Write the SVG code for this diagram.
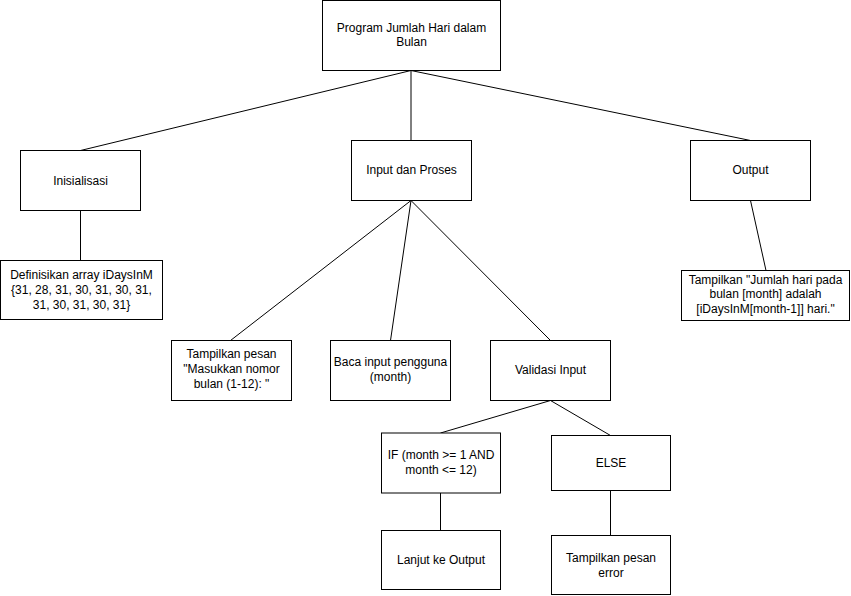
<svg xmlns="http://www.w3.org/2000/svg" width="851" height="596" viewBox="0 0 851 596">
  <style>
    .box { fill: #ffffff; stroke: #000000; stroke-width: 1; }
    .lbl { font-family: "Liberation Sans", Arial, Helvetica, sans-serif; font-size: 12px; fill: #000000; text-anchor: middle; }
    .edge { stroke: #000000; stroke-width: 1; fill: none; }
  </style>
  <rect width="851" height="596" fill="#ffffff"/>

  <!-- connectors -->
  <g id="connectors">
    <line class="edge" x1="411" y1="70.5" x2="80.5" y2="150.5"/>
    <line class="edge" x1="411" y1="70.5" x2="411" y2="140.5"/>
    <line class="edge" x1="411" y1="70.5" x2="750.5" y2="140.5"/>
    <line class="edge" x1="80.5" y1="210.5" x2="80.5" y2="260.5"/>
    <line class="edge" x1="411" y1="200.5" x2="230.5" y2="340.5"/>
    <line class="edge" x1="411" y1="200.5" x2="390.5" y2="340.5"/>
    <line class="edge" x1="411" y1="200.5" x2="550.5" y2="340.5"/>
    <line class="edge" x1="750.5" y1="200.5" x2="766" y2="270.5"/>
    <line class="edge" x1="550.5" y1="400.5" x2="440.5" y2="433"/>
    <line class="edge" x1="550.5" y1="400.5" x2="610.5" y2="435.5"/>
    <line class="edge" x1="440.5" y1="493" x2="440.5" y2="530.5"/>
    <line class="edge" x1="610.5" y1="490.5" x2="610.5" y2="535.5"/>
  </g>

  <g id="root">
    <rect class="box" x="322.5" y="0.5" width="178" height="70"/>
    <text class="lbl" x="411.5" y="32">Program Jumlah Hari dalam</text>
    <text class="lbl" x="411.5" y="46">Bulan</text>
  </g>

  <g id="inisialisasi">
    <rect class="box" x="20.5" y="150.5" width="120" height="60"/>
    <text class="lbl" x="80.5" y="185">Inisialisasi</text>
  </g>

  <g id="definisi-array">
    <rect class="box" x="0.5" y="260.5" width="162" height="59"/>
    <text class="lbl" x="81.5" y="279">Definisikan array iDaysInM</text>
    <text class="lbl" x="81.5" y="294">{31, 28, 31, 30, 31, 30, 31,</text>
    <text class="lbl" x="81.5" y="309">31, 30, 31, 30, 31}</text>
  </g>

  <g id="input-proses">
    <rect class="box" x="351.5" y="140.5" width="120" height="60"/>
    <text class="lbl" x="411.5" y="174">Input dan Proses</text>
  </g>

  <g id="output">
    <rect class="box" x="690.5" y="140.5" width="120" height="60"/>
    <text class="lbl" x="750.5" y="174">Output</text>
  </g>

  <g id="tampilkan-hasil">
    <rect class="box" x="681.5" y="270.5" width="168" height="50"/>
    <text class="lbl" x="765.5" y="284">Tampilkan "Jumlah hari pada</text>
    <text class="lbl" x="765.5" y="298">bulan [month] adalah</text>
    <text class="lbl" x="765.5" y="313">[iDaysInM[month-1]] hari."</text>
  </g>

  <g id="tampilkan-pesan">
    <rect class="box" x="171.5" y="340.5" width="120" height="60"/>
    <text class="lbl" x="231.5" y="358">Tampilkan pesan</text>
    <text class="lbl" x="231.5" y="373">"Masukkan nomor</text>
    <text class="lbl" x="231.5" y="388">bulan (1-12): "</text>
  </g>

  <g id="baca-input">
    <rect class="box" x="330.5" y="340.5" width="120" height="60"/>
    <text class="lbl" x="390.5" y="366">Baca input pengguna</text>
    <text class="lbl" x="390.5" y="381">(month)</text>
  </g>

  <g id="validasi-input">
    <rect class="box" x="490.5" y="340.5" width="120" height="60"/>
    <text class="lbl" x="550.5" y="374">Validasi Input</text>
  </g>

  <g id="if-valid">
    <rect class="box" x="381.5" y="433" width="119" height="60"/>
    <text class="lbl" x="441" y="459">IF (month &gt;= 1 AND</text>
    <text class="lbl" x="441" y="474">month &lt;= 12)</text>
  </g>

  <g id="else">
    <rect class="box" x="551.5" y="435.5" width="119" height="55"/>
    <text class="lbl" x="611" y="467">ELSE</text>
  </g>

  <g id="lanjut-output">
    <rect class="box" x="381.5" y="530.5" width="119" height="59"/>
    <text class="lbl" x="441" y="564">Lanjut ke Output</text>
  </g>

  <g id="pesan-error">
    <rect class="box" x="551.5" y="535.5" width="119" height="59"/>
    <text class="lbl" x="611" y="562">Tampilkan pesan</text>
    <text class="lbl" x="611" y="577">error</text>
  </g>
</svg>
